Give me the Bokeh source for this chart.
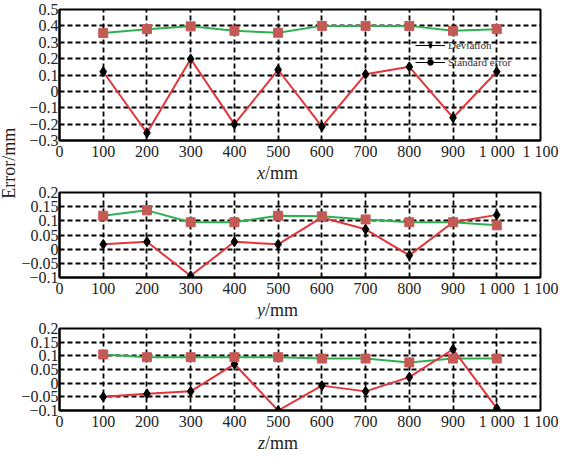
import math
from bokeh.plotting import figure
from bokeh.models import FixedTicker, Legend, LegendItem
from bokeh.layouts import column, row
from bokeh.embed import file_html
from bokeh.resources import INLINE

# ---- data ----
positions = [100, 200, 300, 400, 500, 600, 700, 800, 900, 1000]

dev_x = [0.12, -0.254, 0.198, -0.20, 0.132, -0.215, 0.105, 0.15, -0.16, 0.12]
std_x = [0.356, 0.38, 0.397, 0.37, 0.358, 0.40, 0.40, 0.40, 0.37, 0.38]

dev_y = [0.017, 0.026, -0.094, 0.026, 0.017, 0.112, 0.07, -0.022, 0.095, 0.121]
std_y = [0.118, 0.137, 0.095, 0.095, 0.118, 0.116, 0.105, 0.095, 0.095, 0.084]

dev_z = [-0.05, -0.039, -0.03, 0.07, -0.10, -0.009, -0.03, 0.022, 0.124, -0.092]
std_z = [0.105, 0.095, 0.095, 0.095, 0.095, 0.09, 0.09, 0.076, 0.09, 0.09]

x_ticks = [0, 100, 200, 300, 400, 500, 600, 700, 800, 900, 1000, 1100]
x_tick_labels = ["0", "100", "200", "300", "400", "500", "600", "700",
                 "800", "900", "1 000", "1 100"]

y1_ticks = [-0.3, -0.2, -0.1, 0, 0.1, 0.2, 0.3, 0.4, 0.5]
y1_labels = ["\u22120.3", "\u22120.2", "\u22120.1", "0", "0.1", "0.2", "0.3", "0.4", "0.5"]
y23_ticks = [-0.1, -0.05, 0, 0.05, 0.1, 0.15, 0.2]
y23_labels = ["\u22120.1", "\u22120.05", "0", "0.05", "0.1", "0.15", "0.2"]

axis_vars = ["x", "y", "z"]
axis_unit = "/mm"
y_title = "Error/mm"
legend_labels = ["Deviation", "Standard error"]

FONT = "Liberation Serif"
TXT = "#222222"
RED = "#e3343a"
GREEN = "#2fb04f"
SQ = "#c45a55"

LEFT = 38
YLAB_W = 18
FIG_W = 560 - YLAB_W
LABEL_SPLIT = 470  # where the italic variable meets the unit in the axis title


def make_panel(dev, std, yr, yticks, ylabels, height, top, bottom):
    p = figure(width=FIG_W, height=height, x_range=(0, 1100), y_range=yr,
               output_backend="svg", toolbar_location=None, title=None,
               min_border_left=LEFT, min_border_right=20,
               min_border_top=top, min_border_bottom=bottom)
    p.background_fill_color = "white"
    p.border_fill_color = "white"
    p.outline_line_color = "black"
    p.outline_line_width = 2
    p.outline_line_alpha = 1

    p.xaxis.ticker = FixedTicker(ticks=x_ticks)
    p.xaxis.major_label_overrides = dict(zip(x_ticks, x_tick_labels))
    p.yaxis.ticker = FixedTicker(ticks=yticks)
    p.yaxis.major_label_overrides = dict(zip(yticks, ylabels))
    p.xgrid.ticker = FixedTicker(ticks=x_ticks)
    p.ygrid.ticker = FixedTicker(ticks=yticks)

    for ax in (p.xaxis, p.yaxis):
        ax.axis_line_color = "black"
        ax.axis_line_width = 2
        ax.major_tick_in = 0
        ax.major_tick_out = 0
        ax.minor_tick_line_color = None
        ax.major_label_text_font = FONT
        ax.major_label_text_font_size = "16px"
        ax.major_label_text_color = TXT
    p.xaxis.major_label_standoff = 2
    p.yaxis.major_label_standoff = 1

    for g in (p.xgrid, p.ygrid):
        g.grid_line_color = "black"
        g.grid_line_width = 1.8
        g.grid_line_dash = "5 3"
        g.grid_line_alpha = 1

    p.line(positions, std, line_color=GREEN, line_width=2)
    p.line(positions, dev, line_color=RED, line_width=2)
    p.scatter(positions, dev, marker="diamond", size=10, fill_color="black",
              line_color="black")
    p.scatter(positions, std, marker="square", size=9, fill_color=SQ,
              line_color=SQ)
    return p


def make_xlabel(var, height):
    f = figure(width=FIG_W, height=height, x_range=(0, 1100), y_range=(0, 1),
               output_backend="svg", toolbar_location=None, title=None,
               x_axis_type=None, y_axis_type=None,
               min_border_left=LEFT, min_border_right=20,
               min_border_top=0, min_border_bottom=0)
    f.outline_line_color = None
    f.grid.visible = False
    f.text(x=[LABEL_SPLIT], y=[0.5], text=[var], text_align="right",
           text_baseline="middle", text_font=FONT, text_font_size="18px",
           text_font_style="italic", text_color=TXT)
    f.text(x=[LABEL_SPLIT], y=[0.5], text=[axis_unit], text_align="left",
           text_baseline="middle", text_font=FONT, text_font_size="18px",
           text_color=TXT)
    return f


p1 = make_panel(dev_x, std_x, (-0.3, 0.5), y1_ticks, y1_labels, 162, 9, 20)
p2 = make_panel(dev_y, std_y, (-0.1, 0.2), y23_ticks, y23_labels, 116, 9, 20)
p3 = make_panel(dev_z, std_z, (-0.1, 0.2), y23_ticks, y23_labels, 113, 9, 20)

lab1 = make_xlabel(axis_vars[0], 21)
lab2 = make_xlabel(axis_vars[1], 20)
lab3 = make_xlabel(axis_vars[2], 20)

# legend (black proxies like the reference)
nan = float("nan")
l1 = p1.line([nan], [nan], line_color="black", line_width=1)
m1 = p1.scatter([nan], [nan], marker="diamond", size=10, color="black")
l2 = p1.line([nan], [nan], line_color="black", line_width=1)
m2 = p1.scatter([nan], [nan], marker="circle", size=6, color="black")
legend = Legend(items=[LegendItem(label=legend_labels[0], renderers=[l1, m1]),
                       LegendItem(label=legend_labels[1], renderers=[l2, m2])],
                location=(356, 71), background_fill_alpha=0, border_line_color=None,
                label_text_font=FONT, label_text_font_size="11px",
                label_text_color="#333333", glyph_width=30, glyph_height=14,
                label_height=14, spacing=3, padding=0, margin=0, label_standoff=3)
p1.add_layout(legend)

# vertical y-axis title on the left
ylab = figure(width=YLAB_W, height=452, x_range=(0, 1), y_range=(0, 1),
              output_backend="svg", toolbar_location=None, title=None,
              x_axis_type=None, y_axis_type=None,
              min_border_left=0, min_border_right=0, min_border_top=0,
              min_border_bottom=0)
ylab.outline_line_color = None
ylab.grid.visible = False
ylab.text(x=[0.45], y=[0.64], text=[y_title], angle=math.pi / 2,
          text_align="center", text_baseline="middle", text_font=FONT,
          text_font_size="18px", text_color=TXT)

layout = row(ylab, column(p1, lab1, p2, lab2, p3, lab3, spacing=0), spacing=0)
open("out.html", "w").write(file_html(layout, INLINE))
